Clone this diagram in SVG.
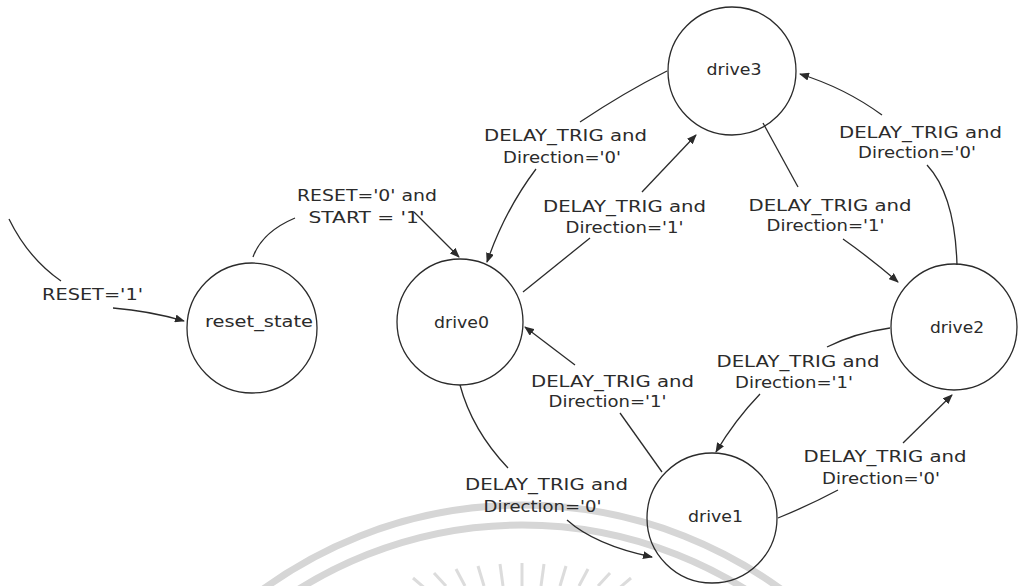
<svg xmlns="http://www.w3.org/2000/svg" width="1020" height="586" viewBox="0 0 1020 586">
  <defs>
    <style>
      .state { fill: none; stroke: #2b2b2b; stroke-width: 1.3; }
      .name { font-family: "DejaVu Sans", "Liberation Sans", sans-serif; font-size: 15px; fill: #2b2b2b; text-anchor: middle; }
      .edge { fill: none; stroke: #2b2b2b; stroke-width: 1.3; }
      .lbl { font-family: "DejaVu Sans", "Liberation Sans", sans-serif; font-size: 15.5px; fill: #2b2b2b; text-anchor: middle; }
      .seal { fill: none; stroke: #d6d6d6; stroke-width: 7; }
      .ray { stroke: #dcdcdc; stroke-width: 3; }
    </style>
    <marker id="arrow" markerUnits="userSpaceOnUse" markerWidth="10" markerHeight="8" refX="9" refY="4" orient="auto">
      <path d="M0,0 L10,4 L0,8 z" fill="#2b2b2b"/>
    </marker>
  </defs>

  <rect width="1020" height="586" fill="#ffffff"/>

  <!-- faint seal in the lower half -->
  <g id="seal">
    <circle class="seal" cx="522" cy="945" r="440"/>
    <circle class="seal" cx="522" cy="945" r="420"/>
    <g class="ray">
      <line x1="522" y1="563" x2="522" y2="586"/>
      <line x1="500" y1="564" x2="503" y2="586"/>
      <line x1="478" y1="566" x2="484" y2="586"/>
      <line x1="456" y1="569" x2="465" y2="586"/>
      <line x1="434" y1="573" x2="446" y2="586"/>
      <line x1="413" y1="578" x2="427" y2="590"/>
      <line x1="544" y1="564" x2="541" y2="586"/>
      <line x1="566" y1="566" x2="560" y2="586"/>
      <line x1="588" y1="569" x2="579" y2="586"/>
      <line x1="610" y1="573" x2="598" y2="586"/>
      <line x1="631" y1="578" x2="617" y2="590"/>
    </g>
  </g>

  <!-- transitions -->
  <g id="connectors">
    <path class="edge" d="M9,219 Q28,258 61,281"/>
    <path class="edge" d="M113,308 Q150,311 184,321" marker-end="url(#arrow)"/>

    <path class="edge" d="M253,257 Q262,232 295,218"/>
    <path class="edge" d="M414,212 L459,257" marker-end="url(#arrow)"/>

    <path class="edge" d="M523,292 Q560,262 590,238"/>
    <path class="edge" d="M642,192 L696,135" marker-end="url(#arrow)"/>

    <path class="edge" d="M667,71 Q625,92 580,122"/>
    <path class="edge" d="M536,169 Q505,210 487,262" marker-end="url(#arrow)"/>

    <path class="edge" d="M763,123 L798,187"/>
    <path class="edge" d="M843,239 Q870,258 898,282" marker-end="url(#arrow)"/>

    <path class="edge" d="M957,265 Q955,195 927,165"/>
    <path class="edge" d="M882,115 Q845,88 800,74" marker-end="url(#arrow)"/>

    <path class="edge" d="M890,328 Q855,333 827,347"/>
    <path class="edge" d="M760,394 Q735,420 716,452" marker-end="url(#arrow)"/>

    <path class="edge" d="M662,472 L620,413"/>
    <path class="edge" d="M575,365 L525,327" marker-end="url(#arrow)"/>

    <path class="edge" d="M460,385 Q472,430 508,468"/>
    <path class="edge" d="M567,520 Q595,545 652,557" marker-end="url(#arrow)"/>

    <path class="edge" d="M778,518 Q810,505 838,490"/>
    <path class="edge" d="M903,443 L952,395" marker-end="url(#arrow)"/>
  </g>

  <!-- transition conditions -->
  <g id="labels">
    <text class="lbl" x="92.5" y="300" textLength="101" lengthAdjust="spacingAndGlyphs">RESET='1'</text>

    <text class="lbl" x="367" y="201" textLength="140" lengthAdjust="spacingAndGlyphs">RESET='0' and</text>
    <text class="lbl" x="366.5" y="223" textLength="116" lengthAdjust="spacingAndGlyphs">START = '1'</text>

    <text class="lbl" x="565.5" y="141" textLength="163" lengthAdjust="spacingAndGlyphs">DELAY_TRIG and</text>
    <text class="lbl" x="562" y="163" textLength="118" lengthAdjust="spacingAndGlyphs">Direction='0'</text>

    <text class="lbl" x="624.5" y="212" textLength="163" lengthAdjust="spacingAndGlyphs">DELAY_TRIG and</text>
    <text class="lbl" x="624.5" y="233" textLength="118" lengthAdjust="spacingAndGlyphs">Direction='1'</text>

    <text class="lbl" x="920.5" y="138" textLength="163" lengthAdjust="spacingAndGlyphs">DELAY_TRIG and</text>
    <text class="lbl" x="917" y="158" textLength="118" lengthAdjust="spacingAndGlyphs">Direction='0'</text>

    <text class="lbl" x="830" y="211" textLength="163" lengthAdjust="spacingAndGlyphs">DELAY_TRIG and</text>
    <text class="lbl" x="825.5" y="231" textLength="118" lengthAdjust="spacingAndGlyphs">Direction='1'</text>

    <text class="lbl" x="798" y="367" textLength="163" lengthAdjust="spacingAndGlyphs">DELAY_TRIG and</text>
    <text class="lbl" x="794" y="388" textLength="118" lengthAdjust="spacingAndGlyphs">Direction='1'</text>

    <text class="lbl" x="612.5" y="387" textLength="163" lengthAdjust="spacingAndGlyphs">DELAY_TRIG and</text>
    <text class="lbl" x="607.5" y="407" textLength="118" lengthAdjust="spacingAndGlyphs">Direction='1'</text>

    <text class="lbl" x="546.5" y="490" textLength="163" lengthAdjust="spacingAndGlyphs">DELAY_TRIG and</text>
    <text class="lbl" x="542.5" y="512" textLength="118" lengthAdjust="spacingAndGlyphs">Direction='0'</text>

    <text class="lbl" x="885" y="462" textLength="163" lengthAdjust="spacingAndGlyphs">DELAY_TRIG and</text>
    <text class="lbl" x="881" y="484" textLength="118" lengthAdjust="spacingAndGlyphs">Direction='0'</text>
  </g>

  <!-- states -->
  <g id="reset_state">
    <circle class="state" cx="252" cy="328" r="65"/>
    <text class="name" x="259" y="327" textLength="108" lengthAdjust="spacingAndGlyphs">reset_state</text>
  </g>
  <g id="drive0">
    <circle class="state" cx="460" cy="322" r="63"/>
    <text class="name" x="461.5" y="328" textLength="55" lengthAdjust="spacingAndGlyphs">drive0</text>
  </g>
  <g id="drive3">
    <circle class="state" cx="732" cy="71" r="64"/>
    <text class="name" x="734" y="75" textLength="55" lengthAdjust="spacingAndGlyphs">drive3</text>
  </g>
  <g id="drive2">
    <circle class="state" cx="954" cy="327" r="63"/>
    <text class="name" x="957" y="333" textLength="54" lengthAdjust="spacingAndGlyphs">drive2</text>
  </g>
  <g id="drive1">
    <circle class="state" cx="712" cy="518" r="65"/>
    <text class="name" x="715.5" y="522" textLength="55" lengthAdjust="spacingAndGlyphs">drive1</text>
  </g>
</svg>
